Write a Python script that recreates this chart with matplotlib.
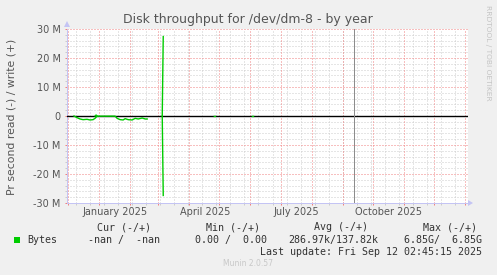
import matplotlib
matplotlib.use("Agg")
import matplotlib.pyplot as plt
import numpy as np
import pandas as pd
from matplotlib.patches import Polygon, Rectangle

W, H = 497, 275

# daily read rate (MB/s, drawn below zero); NaN = unknown
read_dates = [
    "2024-12-07", "2024-12-10", "2024-12-13", "2024-12-16", "2024-12-20",
    "2024-12-23", "2024-12-26", "2024-12-28", "2024-12-30", "2025-01-17",
    "2025-01-19", "2025-01-22", "2025-01-25", "2025-01-27", "2025-01-30",
    "2025-02-03", "2025-02-06", "2025-02-09", "2025-02-13", "2025-02-16",
    "2025-02-18", "2025-02-19",
    "2025-03-05", "2025-03-06", "2025-03-07",
    "2025-04-26", "2025-04-27", "2025-04-28",
    "2025-06-03", "2025-06-04", "2025-06-05",
]
read_mbytes = [
    0.0, 0.57, 1.03, 1.26, 1.14,
    1.37, 1.26, 0.80, 0.05, 0.05,
    0.80, 1.26, 1.37, 0.91, 1.26,
    1.37, 0.80, 1.03, 0.69, 1.03,
    1.03, np.nan,
    0.0, 27.4, np.nan,
    0.15, 0.15, np.nan,
    0.15, 0.15, np.nan,
]
# daily write rate (MB/s, drawn above zero)
write_dates = ["2024-12-28", "2024-12-29", "2024-12-30", "2024-12-31",
               "2025-03-05", "2025-03-06"]
write_mbytes = [0.0, 0.34, 0.0, np.nan, 0.0, 27.4]

y_ticks = [30, 20, 10, 0, -10, -20, -30]
y_tick_labels = ["30 M", "20 M", "10 M", "0", "-10 M", "-20 M", "-30 M"]
x_labels = ["January 2025", "April 2025", "July 2025", "October 2025"]
x_label_dates = ["2025-01-16 12:00", "2025-04-16 12:00",
                 "2025-07-16 12:00", "2025-10-16 12:00"]
view_start, view_end = "2024-11-30", "2026-01-04"
last_update = "2025-09-12 02:45:15"

legend_heads = ["Cur (-/+)", "Min (-/+)", "Avg (-/+)", "Max (-/+)"]
legend_vals = ["-nan /  -nan", "0.00 /  0.00", "286.97k/137.82k", "6.85G/  6.85G"]

BG = "#F0F0F0"
TXT = "#555555"
AXIS = "#C4C4F4"
MINOR = "#CCCCCC"
MAJOR = "#F08080"
GREEN = "#00CC00"
PX = 0.72  # one pixel in points
DOTS = (0, (1, 2))


def fx(x):
    return x / W


def fy(y):
    return 1 - y / H


fig = plt.figure(figsize=(W / 100, H / 100), dpi=100, facecolor=BG)
ax = fig.add_axes([fx(67), fy(203), (468 - 67) / W, (203 - 29) / H])
ax.set_facecolor("white")

t0, t1 = pd.Timestamp(view_start), pd.Timestamp(view_end)
ax.set_xlim(t0, t1)
ax.set_ylim(-30, 30)

# ── grid ──
months = pd.date_range("2024-12-01", "2026-01-01", freq="MS")
fortnights = pd.date_range("2024-12-09", "2026-01-04", freq="14D")
grid_kw = dict(lw=PX, ls=DOTS)
for v in range(-28, 30, 2):
    if v % 10:
        ax.axhline(v, color=MINOR, zorder=1, **grid_kw)
for d in fortnights:
    ax.axvline(d, color=MINOR, zorder=1, **grid_kw)
for v in [-20, -10, 10, 20, 30]:
    ax.axhline(v, color=MAJOR, zorder=2, **grid_kw)
for d in months:
    ax.axvline(d, color=MAJOR, zorder=2, **grid_kw)

# ── ticks ──
ax.set_xticks(months)
ax.set_xticks(fortnights, minor=True)
ax.set_xticklabels([])
ax.set_yticks(y_ticks)
ax.set_yticklabels(y_tick_labels, fontsize=7, color=TXT)
ax.set_yticks([v for v in range(-28, 30, 2) if v % 10], minor=True)
ax.tick_params(axis="both", which="major", color=MAJOR, length=2 * PX, width=PX, pad=3)
ax.tick_params(axis="both", which="minor", color=MINOR, length=2 * PX, width=PX)
for lab, d in zip(x_labels, x_label_dates):
    ax.text(pd.Timestamp(d), -0.05, lab, transform=ax.get_xaxis_transform(),
            ha="center", va="center", fontsize=7, color=TXT)

for s in ["top", "right"]:
    ax.spines[s].set_visible(False)
for s in ["left", "bottom"]:
    ax.spines[s].set_color(AXIS)
    ax.spines[s].set_linewidth(PX)

# ── data ──
ax.axhline(0, color="black", lw=1.0, zorder=3)
ax.axvline(pd.Timestamp(last_update), color="#8C8C8C", lw=PX, zorder=3)
rd = pd.to_datetime(read_dates)
wd = pd.to_datetime(write_dates)
ax.plot(rd, -np.array(read_mbytes), color=GREEN, lw=1.0, zorder=4)
ax.plot(wd, np.array(write_mbytes), color=GREEN, lw=1.0, zorder=4)

# axis arrows
fig.add_artist(Polygon([[fx(468), fy(200)], [fx(473), fy(203)], [fx(468), fy(206)]],
                       closed=True, transform=fig.transFigure, color=AXIS, lw=0))
fig.add_artist(Polygon([[fx(64), fy(27)], [fx(67), fy(21)], [fx(70), fy(27)]],
                       closed=True, transform=fig.transFigure, color=AXIS, lw=0))

# ── texts ──
fig.text(fx(248), fy(19), "Disk throughput for /dev/dm-8 - by year",
         ha="center", va="center", fontsize=9, color=TXT)
fig.text(fx(12), fy(117), "Pr second read (-) / write (+)", rotation=90,
         ha="center", va="center", fontsize=7.8, color=TXT)
fig.text(fx(488), fy(53), "RRDTOOL / TOBI OETIKER", rotation=270,
         ha="center", va="center", fontsize=5.4, color="#C4C4C4")

mono = dict(family="DejaVu Sans Mono", fontsize=7.2, color="#333333", va="center")
for txt, xr in zip(legend_heads, [151, 260, 368, 477]):
    fig.text(fx(xr), fy(227), txt, ha="right", **mono)
fig.add_artist(Rectangle((fx(14), fy(243)), 6 / W, 6 / H,
                         transform=fig.transFigure, color=GREEN, lw=0))
fig.text(fx(27), fy(240), "Bytes", ha="left", **mono)
for txt, xr in zip(legend_vals, [160, 267, 378, 482]):
    fig.text(fx(xr), fy(240), txt, ha="right", **mono)
fig.text(fx(482), fy(252), "Last update: Fri Sep 12 02:45:15 2025", ha="right", **mono)
fig.text(fx(248), fy(264), "Munin 2.0.57", ha="center", va="center",
         fontsize=5.5, color="#C8C8C8")

fig.savefig("out.png", dpi=100, facecolor=BG)
